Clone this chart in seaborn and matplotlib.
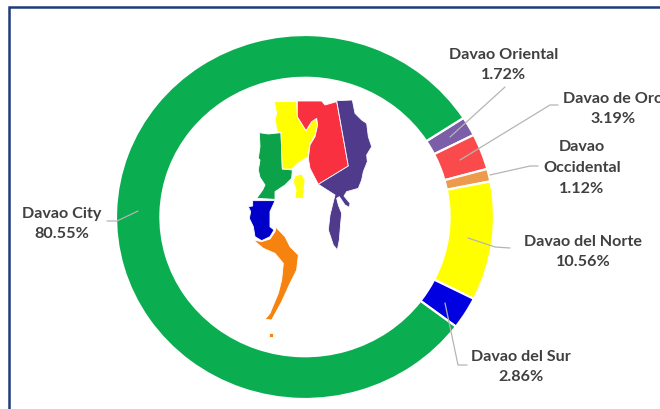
import matplotlib
matplotlib.use("Agg")
import matplotlib.pyplot as plt
import seaborn as sns

provinces = ["Davao Oriental", "Davao de Oro", "Davao\nOccidental", "Davao del Norte", "Davao del Sur", "Davao City"]
shares = [1.72, 3.19, 1.12, 10.56, 2.86, 80.55]
share_labels = ["1.72%", "3.19%", "1.12%", "10.56%", "2.86%", "80.55%"]
ring_colors = ["#7b5ea7", "#fb4a4c", "#ee9a4d", "#ffff00", "#0000e0", "#0aad4f"]

W, H = 660, 409

# label anchor (centre) and leader polyline in reference pixels
label_xy = [(504, 65), (613, 109), (582, 168), (583, 252), (521, 367), (62, 224)]
leaders = [
    [(505, 87), (450, 137)],
    [(558, 105), (550, 105), (460, 160)],
    [(538, 166), (530, 166), (490, 175)],
    [(468, 238), (495, 247), (510, 248)],
    [(445, 303), (458, 365), (467, 365)],
    [(107, 221), (117, 221), (138, 211)],
]

# map outlines, in crop units of the map panel
map_green = [(118,128),(145,132),(183,128),(187,237),(217,240),(215,265),(195,285),(165,305),(165,328),(110,325),(128,300),(135,285),(120,262),(115,240),(120,210),(115,205),(120,170)]
map_yellow = [(163,35),(230,35),(232,80),(258,122),(275,95),(290,85),(292,110),(285,135),(268,165),(265,200),(240,215),(215,237),(187,237),(183,128),(172,125),(165,90),(170,70)]
map_yellow_isle = [(225,258),(245,252),(255,270),(250,325),(225,325),(228,300),(220,275)]
map_red = [(232,33),(305,33),(315,45),(350,35),(385,228),(295,283),(270,235),(265,205),(270,165),(285,140),(293,105),(290,85),(275,95),(258,122),(232,80)]
map_purple = [(350,32),(397,30),(405,70),(425,90),(440,100),(445,140),(455,170),(440,195),(442,215),(430,245),(425,270),(415,295),(380,305),(372,318),(390,340),(388,352),(375,345),(358,320),(350,325),(355,345),(365,370),(362,400),(358,450),(352,480),(340,465),(325,420),(330,375),(340,335),(345,315),(295,283),(385,228)]
map_blue = [(98,332),(165,332),(150,365),(150,410),(162,420),(150,440),(125,452),(105,440),(100,410),(88,385),(92,365),(85,350),(98,348)]
map_orange = [(168,412),(195,440),(210,470),(235,495),(230,540),(210,580),(185,635),(155,690),(135,688),(150,670),(175,610),(185,570),(190,520),(165,490),(130,475),(100,450),(125,455),(150,447),(165,425)]
map_orange_isle = [(148,730),(158,730),(158,740),(148,740)]
map_shapes = [
    (map_green, "#0ca24a"), (map_yellow, "#ffff00"), (map_yellow_isle, "#ffff14"),
    (map_red, "#f8303f"), (map_purple, "#4f3a8c"), (map_blue, "#0000c8"),
    (map_orange, "#f6830f"), (map_orange_isle, "#f6830f"),
]

sns.set_theme(style="white")
text_color = "#404040"
font_family = ["Lato", "DejaVu Sans"]

fig = plt.figure(figsize=(W / 100, H / 100), dpi=100, facecolor="white")


def axes_px(x0, y0, x1, y1):
    return fig.add_axes([x0 / W, 1 - y1 / H, (x1 - x0) / W, (y1 - y0) / H])


# ring
ring_ax = axes_px(116, 35, 494, 399)
ring_ax.pie(
    shares,
    colors=sns.color_palette(ring_colors),
    startangle=33,
    counterclock=False,
    radius=1,
    wedgeprops=dict(width=0.235, edgecolor="white", linewidth=1.6),
)
ring_ax.set_aspect("auto")
ring_ax.set_xlim(-1, 1)
ring_ax.set_ylim(-1, 1)
ring_ax.axis("off")

# map
map_ax = axes_px(220, 90, 390, 340)
map_ax.set_xlim(0, 510)
map_ax.set_ylim(750, 0)
map_ax.axis("off")
for outline, color in map_shapes:
    map_ax.fill(*zip(*outline), facecolor=color, edgecolor="white", linewidth=0.6)

# overlay: frame, leaders, labels
top = axes_px(0, 0, W, H)
top.set_xlim(0, W)
top.set_ylim(H, 0)
top.axis("off")
top.patch.set_alpha(0)
top.plot([9, 9, W], [H, 7, 7], color="#1f3c7a", lw=1.8, solid_joinstyle="miter", clip_on=False)
for line in leaders:
    top.plot(*zip(*line), color="#b5b5b5", lw=0.9)
for name, share, (x, y) in zip(provinces, share_labels, label_xy):
    top.text(x, y, f"{name}\n{share}", ha="center", va="center", fontsize=11.6,
             fontweight="bold", color=text_color, family=font_family, linespacing=1.6)

fig.savefig("out.png", dpi=100)
